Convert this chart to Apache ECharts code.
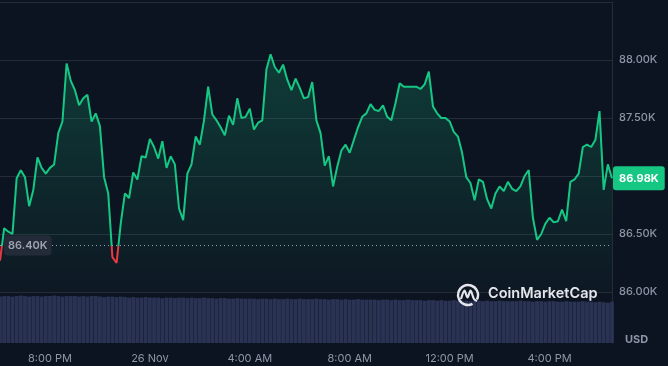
<!DOCTYPE html>
<html><head><meta charset="utf-8">
<script src="https://cdn.jsdelivr.net/npm/echarts@6/dist/echarts.min.js"></script>
<style>html,body{margin:0;padding:0;background:#0d1421;}#c{width:668px;height:366px;}</style>
</head><body><div id="c"></div>
<script>
// Price (thousands USD), one point every 10 minutes from 18:00 (25 Nov)
const prices = [
86.27,86.55,86.52,86.50,86.98,87.05,86.99,86.74,86.88,87.16,
87.07,87.02,87.07,87.10,87.37,87.47,87.97,87.82,87.74,87.61,
87.67,87.70,87.47,87.54,87.43,86.99,86.85,86.30,86.25,86.59,
86.85,86.81,87.03,86.97,87.17,87.16,87.32,87.25,87.15,87.30,
87.07,87.17,87.10,86.72,86.62,87.02,87.10,87.34,87.27,87.48,
87.77,87.53,87.48,87.42,87.35,87.52,87.44,87.67,87.50,87.51,
87.58,87.40,87.46,87.48,87.92,88.05,87.94,87.89,87.96,87.83,
87.74,87.84,87.76,87.67,87.68,87.81,87.48,87.37,87.09,87.17,
86.91,87.08,87.22,87.27,87.20,87.31,87.42,87.51,87.54,87.62,
87.57,87.56,87.61,87.51,87.48,87.63,87.80,87.77,87.77,87.77,
87.77,87.75,87.79,87.90,87.60,87.54,87.50,87.50,87.47,87.38,
87.34,87.20,86.99,86.94,86.79,86.97,86.95,86.80,86.72,86.85,
86.91,86.87,86.95,86.89,86.87,86.91,87.00,87.05,86.64,86.45,
86.50,86.59,86.64,86.60,86.61,86.71,86.61,86.95,86.97,87.02,
87.25,87.27,87.25,87.31,87.56,86.88,87.10,86.98
];
// Volume (relative)
const volumes = [
91,92,92,91,92,93,92,91,92,92,91,92,92,93,92,91,92,92,92,91,92,91,92,92,91,90,91,91,90,91,
90,89,90,89,89,90,89,89,89,88,89,89,88,89,89,88,89,88,88,89,88,88,87,88,88,87,87,88,87,87,
87,87,86,87,87,86,87,86,86,87,86,86,87,86,86,86,87,86,86,85,86,86,85,86,85,85,86,85,85,85,85,84,85,85,84,85,84,84,85,84,
84,84,83,84,84,83,84,83,83,84,83,83,83,82,83,83,82,83,82,82,83,82,82,82,82,83,82,82,81,82,82,81,82,82,81,81,82,81,81,81,82,81,81,80,81,80,79,81
];
const baselinePrice = 86.40;
const startMinutes = 18 * 60;
const stepMinutes = 10;
const tickTimes = ['20:00','00:00','04:00','08:00','12:00','16:00'];
const tickLabels = ['8:00 PM','26 Nov','4:00 AM','8:00 AM','12:00 PM','4:00 PM'];
const yMin = 86.0, yMax = 88.5, yStep = 0.5;

const categories = prices.map((_, i) => {
  const m = (startMinutes + i * stepMinutes) % 1440;
  return String(Math.floor(m / 60)).padStart(2, '0') + ':' + String(m % 60).padStart(2, '0');
});
const lastPrice = prices[prices.length - 1];

const FONT = 'Inter, "Noto Sans", sans-serif';
const GRAY = '#8e95a7';
const GRID = '#262b38';
const GREEN = '#16c784';
const RED = '#ea3943';

const chart = echarts.init(document.getElementById('c'), null, {renderer: 'canvas'});
chart.setOption({
  backgroundColor: '#0d1421',
  animation: false,
  grid: [
    {left: 0, right: 56, top: 2, height: 290},
    {left: 0, right: 56, top: 292, height: 51}
  ],
  xAxis: [
    {type: 'category', gridIndex: 0, data: categories, boundaryGap: false,
     axisLine: {show: false}, axisTick: {show: false}, axisLabel: {show: false}, splitLine: {show: false}},
    {type: 'category', gridIndex: 1, data: categories, boundaryGap: false,
     axisLine: {show: false}, axisTick: {show: false}, splitLine: {show: false},
     axisLabel: {
       color: GRAY, fontSize: 11, fontFamily: FONT, margin: 10,
       interval: (idx, val) => tickTimes.indexOf(val) >= 0,
       formatter: val => tickLabels[tickTimes.indexOf(val)]
     }}
  ],
  yAxis: [
    {type: 'value', gridIndex: 0, position: 'right', min: yMin, max: yMax, interval: yStep,
     axisLine: {show: true, lineStyle: {color: GRID}}, axisTick: {show: false},
     splitLine: {lineStyle: {color: GRID, width: 1}},
     axisLabel: {color: GRAY, fontSize: 11, fontFamily: FONT, fontWeight: 500, margin: 7,
       showMaxLabel: false, formatter: v => v.toFixed(2) + 'K'}},
    {type: 'value', gridIndex: 1, position: 'right', min: 0, max: 100,
     axisLine: {show: true, lineStyle: {color: GRID}}, axisTick: {show: false},
     splitLine: {show: false}, axisLabel: {show: false}}
  ],
  visualMap: {
    show: false, type: 'piecewise', seriesIndex: 0, dimension: 1,
    pieces: [{gte: 80, lt: baselinePrice, color: RED}, {gte: baselinePrice, lte: 95, color: GREEN}],
    outOfRange: {color: GREEN}
  },
  series: [
    {
      type: 'line', xAxisIndex: 0, yAxisIndex: 0, data: prices,
      showSymbol: false, symbol: 'none', smooth: false, clip: false,
      lineStyle: {width: 2},
      areaStyle: {
        origin: 'start',
        color: new echarts.graphic.LinearGradient(0, 0, 0, 1, [
          {offset: 0, color: 'rgba(22,199,132,0.32)'},
          {offset: 1, color: 'rgba(22,199,132,0.03)'}
        ])
      },
      markLine: {
        symbol: 'none', silent: true, animation: false, z: 10,
        data: [
          {yAxis: baselinePrice,
           lineStyle: {color: '#9aa0ad', type: [1, 3], width: 1},
           label: {show: true, position: 'insideStart', distance: 4,
             formatter: baselinePrice.toFixed(2) + 'K',
             color: '#9ea3b0', backgroundColor: '#232a38', borderRadius: 4,
             padding: [5, 4, 4, 4], fontSize: 11, fontWeight: 600, fontFamily: FONT}},
          {yAxis: lastPrice,
           lineStyle: {color: 'rgba(0,0,0,0)', width: 1, type: 'solid'},
           label: {show: true, position: 'end', distance: 1,
             formatter: lastPrice.toFixed(2) + 'K',
             color: '#ffffff', backgroundColor: GREEN, borderRadius: 3,
             padding: [7, 6, 6, 6], fontSize: 11, fontWeight: 700, fontFamily: FONT}}
        ]
      }
    },
    {
      type: 'bar', xAxisIndex: 1, yAxisIndex: 1, data: volumes,
      barCategoryGap: '8%',
      itemStyle: {color: '#2b3354'}
    }
  ],
  graphic: [
    {type: 'arc', shape: {cx: 468, cy: 295, r: 10, startAngle: Math.PI * 0.35, endAngle: Math.PI * 2.15},
     style: {stroke: '#e4e6eb', lineWidth: 2.4, fill: null}, z: 20},
    {type: 'polyline', shape: {points: [[461, 299], [464.5, 290.5], [467.5, 297.5], [470.5, 290.5], [474, 299], [477, 301]], smooth: 0.3},
     style: {stroke: '#e4e6eb', lineWidth: 2.2, fill: null}, z: 20},
    {type: 'text', left: 488, top: 286,
     style: {text: 'CoinMarketCap', fill: '#e4e6eb', font: '600 14.5px ' + FONT}, z: 20},
    {type: 'text', left: 625, top: 334,
     style: {text: 'USD', fill: GRAY, font: 'bold 11px ' + FONT}, z: 20}
  ]
});
</script></body></html>
